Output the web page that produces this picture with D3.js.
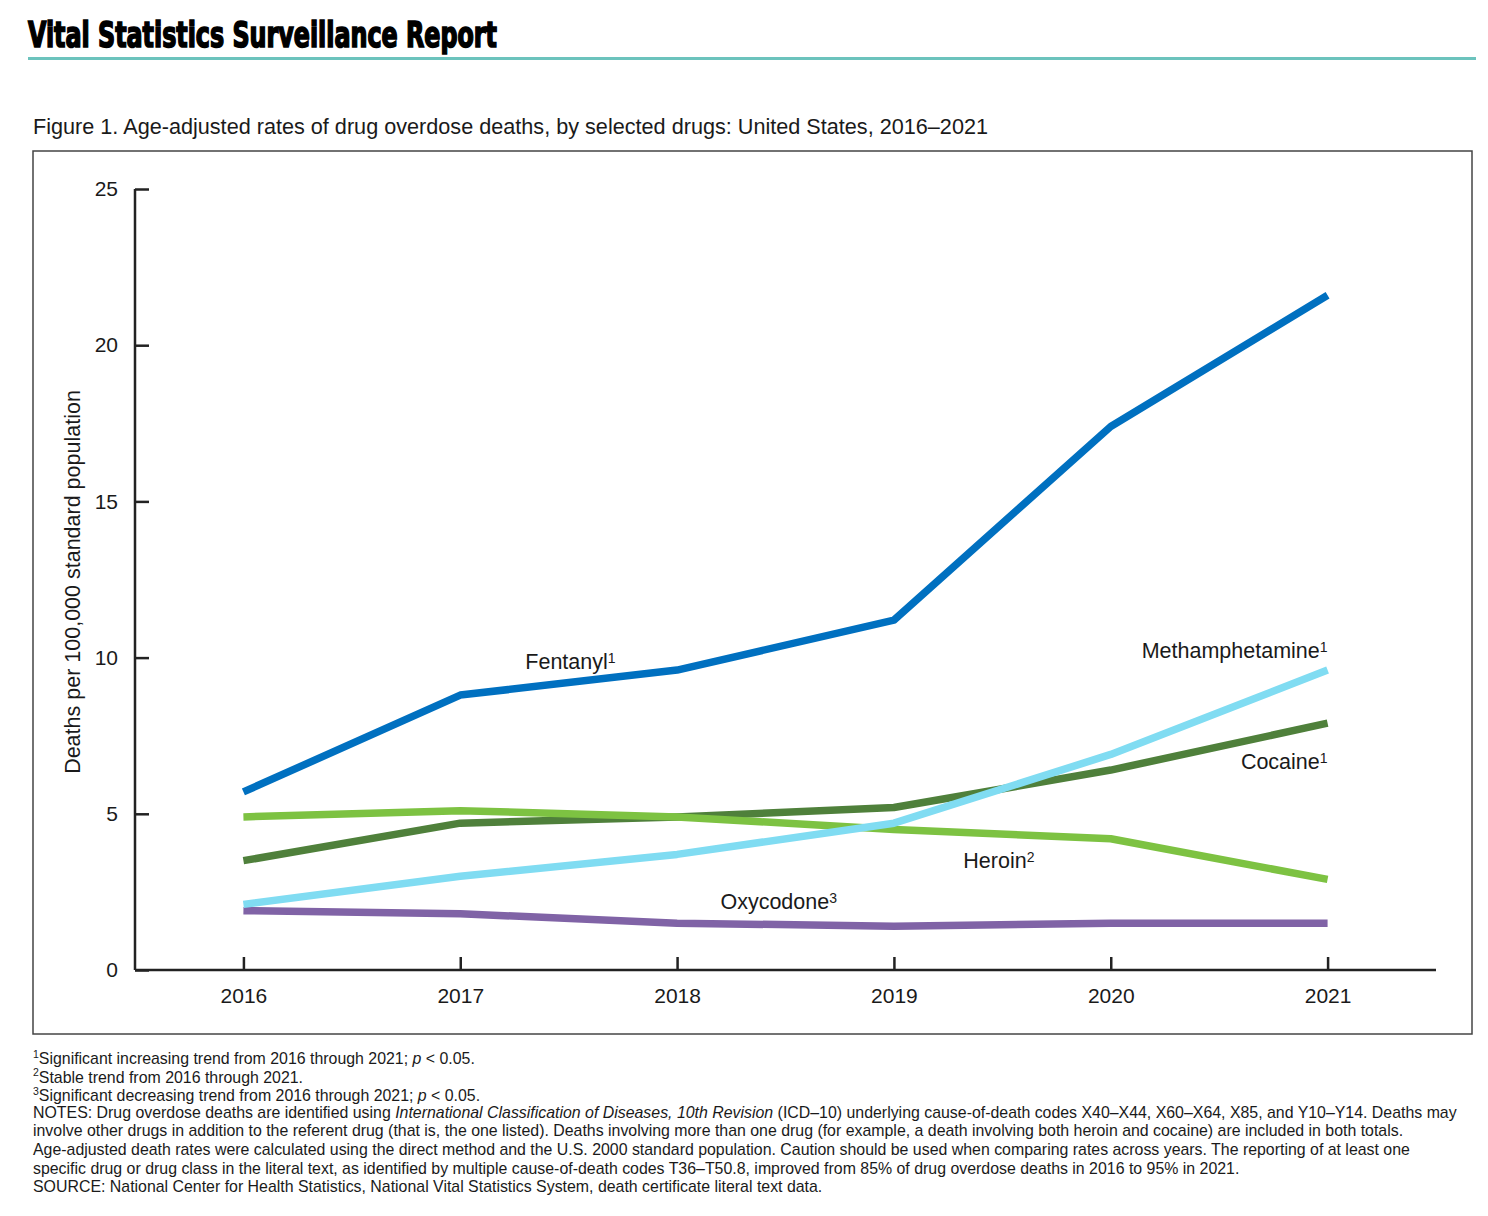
<!DOCTYPE html>
<html>
<head>
<meta charset="utf-8">
<script src="https://cdn.jsdelivr.net/npm/d3@7"></script>
<style>
  body { margin: 0; background: #fff; }
  text { font-family: "Liberation Sans", Arial, sans-serif; fill: #1a1a1a; }
</style>
</head>
<body>
<script>
// data
var years = [2016, 2017, 2018, 2019, 2020, 2021];
var fentanyl = [5.7, 8.8, 9.6, 11.2, 17.4, 21.6];
var heroin = [4.9, 5.1, 4.9, 4.5, 4.2, 2.9];
var cocaine = [3.5, 4.7, 4.9, 5.2, 6.4, 7.9];
var methamphetamine = [2.1, 3.0, 3.7, 4.7, 6.9, 9.6];
var oxycodone = [1.9, 1.8, 1.5, 1.4, 1.5, 1.5];
var yTicks = [0, 5, 10, 15, 20, 25];

var drugNames = ["Oxycodone", "Cocaine", "Heroin", "Methamphetamine", "Fentanyl"];
var drugValues = [oxycodone, cocaine, heroin, methamphetamine, fentanyl];
var drugNotes = ["3", "1", "2", "1", "1"];
var drugColors = ["#8063a6", "#4f803b", "#7dc242", "#80dcf2", "#0070c0"];
// label anchor in data units: [year, value, anchor]
var labelPlaces = [[2018.2, 1.95, "start"], [2021, 6.43, "end"], [2019.32, 3.27, "start"],
                   [2021, 9.99, "end"], [2017.3, 9.63, "start"]];

var footLines = [
  ["1", "Significant increasing trend from 2016 through 2021; ", "p", " < 0.05."],
  ["2", "Stable trend from 2016 through 2021."],
  ["3", "Significant decreasing trend from 2016 through 2021; ", "p", " < 0.05."]
];
var notes = [
  ["NOTES: Drug overdose deaths are identified using ", "International Classification of Diseases, 10th Revision", " (ICD–10) underlying cause-of-death codes X40–X44, X60–X64, X85, and Y10–Y14. Deaths may"],
  ["involve other drugs in addition to the referent drug (that is, the one listed). Deaths involving more than one drug (for example, a death involving both heroin and cocaine) are included in both totals."],
  ["Age-adjusted death rates were calculated using the direct method and the U.S. 2000 standard population. Caution should be used when comparing rates across years. The reporting of at least one"],
  ["specific drug or drug class in the literal text, as identified by multiple cause-of-death codes T36–T50.8, improved from 85% of drug overdose deaths in 2016 to 95% in 2021."],
  ["SOURCE: National Center for Health Statistics, National Vital Statistics System, death certificate literal text data."]
];

var svgWidth = 1488;
var svgHeight = 1216;

var svg = d3.select("body")
  .append("svg")
  .attr("width", svgWidth)
  .attr("height", svgHeight);

// header
svg.append("text")
  .attr("x", 28)
  .attr("y", 47)
  .attr("textLength", 469)
  .attr("lengthAdjust", "spacingAndGlyphs")
  .style("font-family", "'Liberation Sans Narrow', 'DejaVu Sans Condensed', sans-serif")
  .style("font-weight", "bold")
  .style("font-size", "35px")
  .style("fill", "#000")
  .style("stroke", "#000")
  .style("stroke-width", "1.6px")
  .text("Vital Statistics Surveillance Report");

svg.append("rect")
  .attr("x", 28).attr("y", 57)
  .attr("width", 1448).attr("height", 3)
  .attr("fill", "#6cc3bd");

svg.append("text")
  .attr("x", 33)
  .attr("y", 134)
  .attr("textLength", 955)
  .attr("lengthAdjust", "spacingAndGlyphs")
  .style("font-size", "21.5px")
  .text("Figure 1. Age-adjusted rates of drug overdose deaths, by selected drugs: United States, 2016–2021");

svg.append("rect")
  .attr("x", 33).attr("y", 151)
  .attr("width", 1439).attr("height", 883)
  .attr("fill", "none")
  .attr("stroke", "#444")
  .attr("stroke-width", 1.5);

// scales
var x = d3.scaleLinear().domain([2015.5, 2021.5]).range([135, 1436]);
var y = d3.scaleLinear().domain([0, 25]).range([970, 189]);

var xAxis = d3.axisBottom(x)
  .tickValues(years)
  .tickFormat(d3.format("d"))
  .tickSizeInner(-13)
  .tickSizeOuter(0)
  .tickPadding(18);

var yAxis = d3.axisLeft(y)
  .tickValues(yTicks)
  .tickSizeInner(-14)
  .tickSizeOuter(0)
  .tickPadding(17);

var gx = svg.append("g")
  .attr("transform", "translate(0, 970)")
  .call(xAxis);

var gy = svg.append("g")
  .attr("transform", "translate(135, 0)")
  .call(yAxis);

[gx, gy].forEach(function (g) {
  g.selectAll("path, line").attr("stroke", "#222").attr("stroke-width", 2.5);
  g.selectAll("text")
    .style("font-family", "'Liberation Sans', Arial, sans-serif")
    .style("font-size", "21px")
    .attr("fill", "#1a1a1a");
});
gx.select(".domain").attr("d", "M135,0H1436");
gy.select(".domain").attr("d", "M0,189V970");

svg.append("text")
  .attr("transform", "translate(80, 582) rotate(-90)")
  .style("text-anchor", "middle")
  .style("font-size", "21.5px")
  .text("Deaths per 100,000 standard population");

// lines
var line = d3.line()
  .x(function (d, i) { return x(years[i]); })
  .y(function (d) { return y(d); });

svg.append("g")
  .selectAll("path")
  .data(drugValues)
  .enter()
  .append("path")
  .attr("d", line)
  .attr("fill", "none")
  .attr("stroke", function (d, i) { return drugColors[i]; })
  .attr("stroke-width", 7.5)
  .attr("stroke-linejoin", "round");

// line labels
var labels = svg.append("g")
  .selectAll("text")
  .data(drugNames)
  .enter()
  .append("text")
  .attr("x", function (d, i) { return x(labelPlaces[i][0]); })
  .attr("y", function (d, i) { return y(labelPlaces[i][1]); })
  .style("text-anchor", function (d, i) { return labelPlaces[i][2]; })
  .style("font-size", "21.5px");

labels.append("tspan").text(function (d) { return d; });
labels.append("tspan")
  .attr("dy", "-0.45em")
  .style("font-size", "14px")
  .text(function (d, i) { return drugNotes[i]; });

// footnotes
var lineGap = 18.6;
footLines.forEach(function (f, i) {
  var t = svg.append("text")
    .attr("x", 33)
    .attr("y", 1062 + i * lineGap)
    .style("font-size", "15.9px");
  t.append("tspan").attr("dy", "-0.4em").style("font-size", "10.5px").text(f[0]);
  t.append("tspan").attr("dy", "0.4em").text(f[1]);
  if (f.length > 2) {
    t.append("tspan").style("font-style", "italic").text(f[2]);
    t.append("tspan").text(f[3]);
  }
});

notes.forEach(function (n, i) {
  var t = svg.append("text")
    .attr("x", 33)
    .attr("y", 1062 + (i + 3) * lineGap)
    .style("font-size", "15.9px");
  n.forEach(function (part, j) {
    t.append("tspan")
      .style("font-style", j === 1 ? "italic" : "normal")
      .text(part);
  });
});
</script>
</body>
</html>
